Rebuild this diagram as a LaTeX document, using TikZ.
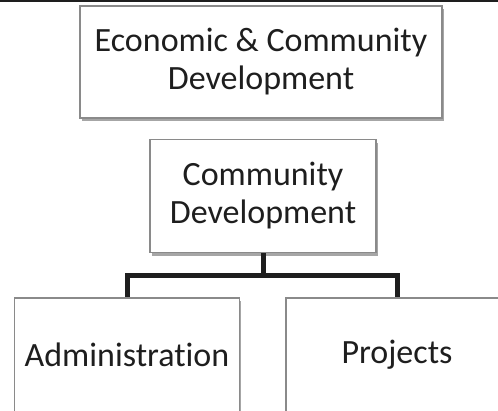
\documentclass[tikz,border=0pt]{standalone}
\usepackage{fontspec}
\setmainfont{Carlito}[Ligatures=NoCommon]
\usetikzlibrary{calc,positioning,shadows}
\definecolor{ink}{HTML}{1E1E1E}
\definecolor{frame}{HTML}{8A8A8A}

\begin{document}
\begin{tikzpicture}[x=1pt,y=-1pt,
 unit/.style={draw=frame,line width=1.2pt,fill=white,inner sep=0pt,align=center,
  text=ink,font=\fontsize{34}{38}\selectfont,
  drop shadow={shadow xshift=1.5pt,shadow yshift=-3pt,fill=black,opacity=.35}},
 link/.style={line width=5pt,draw=ink,line join=miter}]
\path[use as bounding box,clip] (0,0) rectangle (498,410);
\draw[line width=2.2pt,ink] (0,1)--(498,1);
% units
\node[unit,minimum width=362pt,minimum height=112pt] (ecd) at (261,62) {Economic \& Community\\Development};
\node[unit,minimum width=226pt,minimum height=113pt] (cd) at (263,196) {Community\\Development};
\node[unit,minimum width=225pt,minimum height=114pt] (admin) at (127,355) {Administration};
\node[unit,minimum width=222pt,minimum height=114pt] (proj) at (397,355) {Projects};
% links
\draw[link] (cd.south) -- ++(0,22) -| (admin.north);
\draw[link] (cd.south) -- ++(0,22) -| (proj.north);
\end{tikzpicture}
\end{document}
